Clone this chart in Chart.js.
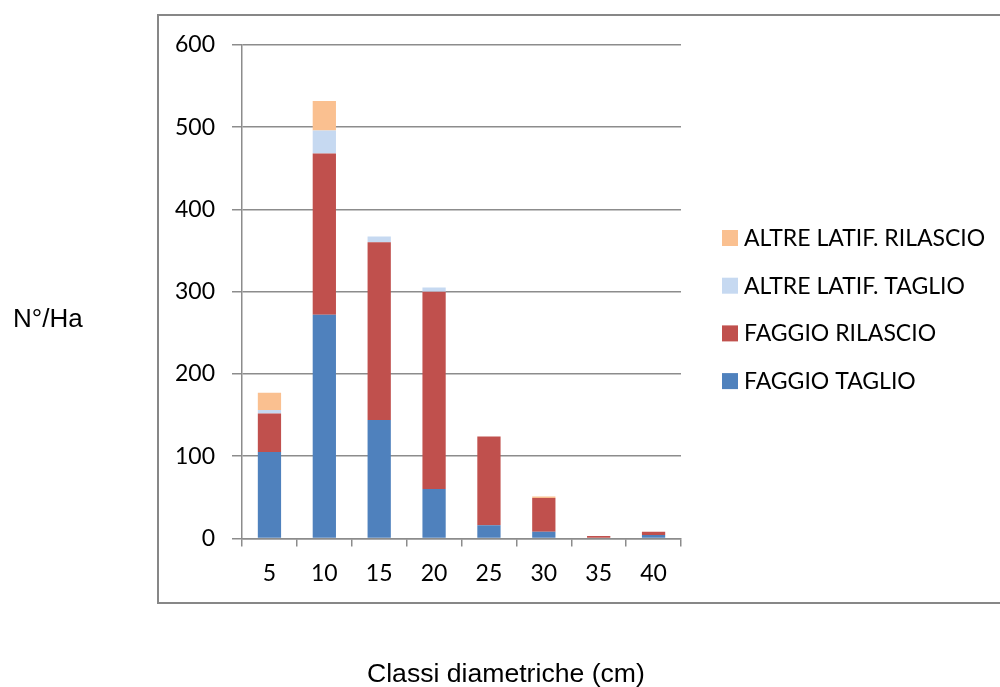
<!DOCTYPE html>
<html>
<head>
<meta charset="utf-8">
<script src="https://cdn.jsdelivr.net/npm/chart.js@4.4.0/dist/chart.umd.min.js"></script>
<style>
  html, body { margin: 0; padding: 0; background: #fff; }
  #wrap { position: relative; width: 1000px; height: 687px; overflow: hidden; }
  #frame { position: absolute; left: 157px; top: 14px; width: 900px; height: 586px; border: 2px solid #878787; box-sizing: content-box; }
  #c { position: absolute; left: 0; top: 0; }
  .lbl { position: absolute; font-family: "Liberation Sans", Arial, sans-serif; font-size: 26px; line-height: 26px; color: #000; white-space: nowrap; }
</style>
</head>
<body>
<div id="wrap">
  <div id="frame"></div>
  <canvas id="c" width="1000" height="687"></canvas>
  <div class="lbl" style="left:13px; top:305px;">N°/Ha</div>
  <div class="lbl" style="left:367px; top:660px; font-size:26.6px;">Classi diametriche (cm)</div>
</div>
<script>
const categories = ['5', '10', '15', '20', '25', '30', '35', '40'];
const faggioTaglio   = [105, 272, 144, 60, 16, 8, 0, 4];
const faggioRilascio = [47, 196, 216, 240, 108, 41, 3, 4];
const altreTaglio    = [4, 28, 7, 5, 0, 0, 0, 0];
const altreRilascio  = [21, 36, 0, 0, 0, 2, 0, 0];
const seriesNames = ['FAGGIO TAGLIO', 'FAGGIO RILASCIO', 'ALTRE LATIF. TAGLIO', 'ALTRE LATIF. RILASCIO'];
const seriesColors = ['#4F81BD', '#C0504D', '#C6D9F1', '#FAC090'];

const fontFamily = 'Lato, "Open Sans", sans-serif';
const tickFont = { family: fontFamily, size: 23 };
const gridColor = '#8c8c8c';

// Legend drawn from the chart's datasets (reversed order, as in the reference)
const sideLegend = {
  id: 'sideLegend',
  afterDraw(chart, args, opts) {
    const ctx = chart.ctx;
    const ds = chart.data.datasets.slice().reverse();
    ctx.save();
    ctx.font = opts.fontSize + 'px ' + fontFamily;
    ctx.textBaseline = 'alphabetic';
    ctx.textAlign = 'left';
    ds.forEach((d, i) => {
      const base = opts.y + i * opts.spacing;
      ctx.fillStyle = d.backgroundColor;
      ctx.fillRect(opts.x, base - opts.box, opts.box, opts.box);
      ctx.fillStyle = '#000';
      ctx.fillText(d.label, opts.x + opts.box + opts.gap, base);
    });
    ctx.restore();
  }
};

new Chart(document.getElementById('c'), {
  type: 'bar',
  data: {
    labels: categories,
    datasets: [
      { label: seriesNames[0], data: faggioTaglio, backgroundColor: seriesColors[0] },
      { label: seriesNames[1], data: faggioRilascio, backgroundColor: seriesColors[1] },
      { label: seriesNames[2], data: altreTaglio, backgroundColor: seriesColors[2] },
      { label: seriesNames[3], data: altreRilascio, backgroundColor: seriesColors[3] }
    ]
  },
  plugins: [sideLegend],
  options: {
    responsive: false,
    animation: false,
    layout: { padding: { left: 158, top: 45, right: 319, bottom: 87 } },
    datasets: { bar: { categoryPercentage: 1, barPercentage: 0.424 } },
    plugins: {
      tooltip: { enabled: false },
      legend: { display: false },
      sideLegend: { x: 722, y: 246, spacing: 47.7, box: 16, gap: 6, fontSize: 23 }
    },
    scales: {
      x: {
        stacked: true,
        grid: { display: true, drawOnChartArea: false, drawTicks: true, tickLength: 8, color: gridColor, lineWidth: 1.5, offset: true },
        border: { display: true, color: gridColor, width: 1.5 },
        ticks: { font: tickFont, color: '#000', padding: 13 }
      },
      y: {
        stacked: true,
        min: 0,
        max: 600,
        grid: { color: gridColor, lineWidth: 1.5, tickLength: 10 },
        border: { display: true, color: gridColor, width: 1.5 },
        ticks: { stepSize: 100, font: tickFont, color: '#000', padding: 17 }
      }
    }
  }
});
</script>
</body>
</html>
